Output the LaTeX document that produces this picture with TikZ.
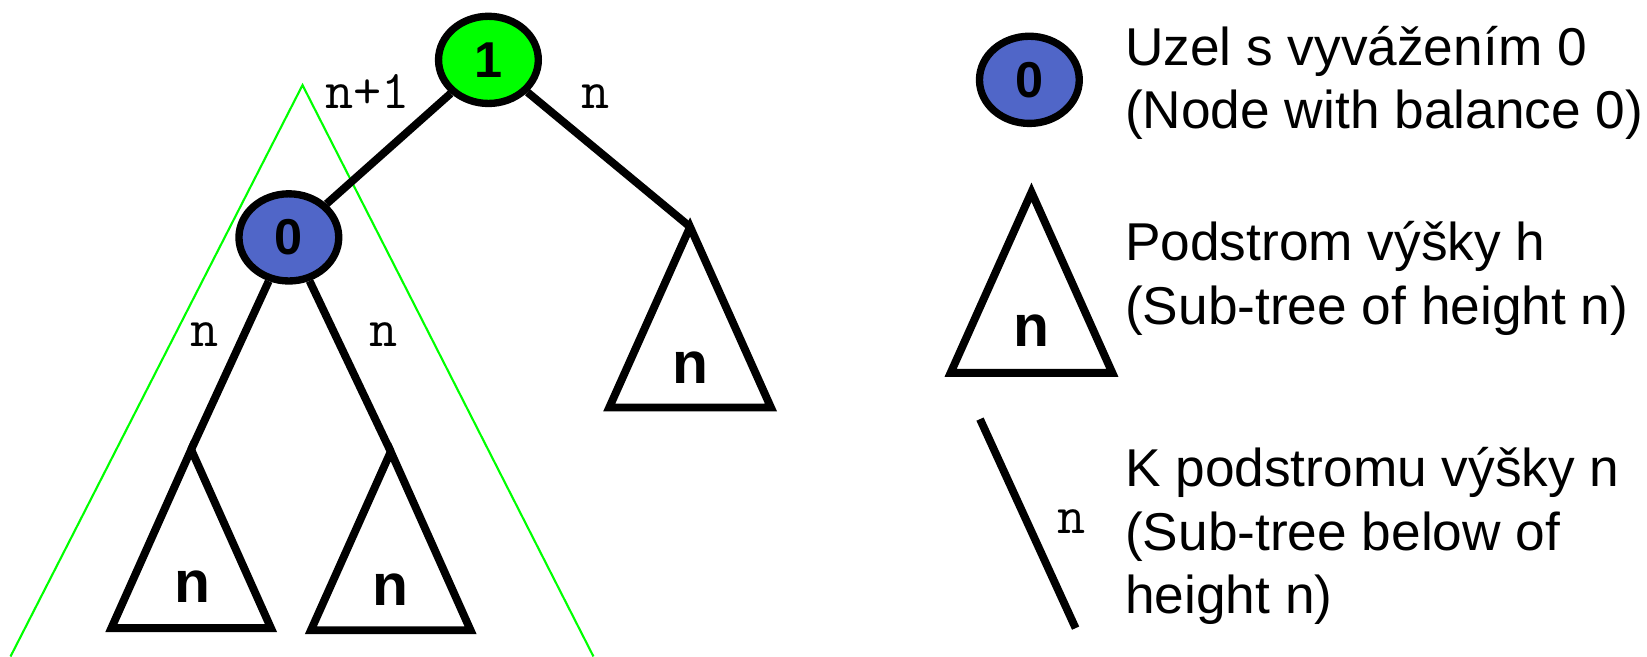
\documentclass[tikz,border=0pt]{standalone}
\usepackage{fontspec}
\setmainfont{Liberation Sans}
\usetikzlibrary{shapes.geometric}
\definecolor{nodegreen}{RGB}{0,255,0}
\definecolor{nodeblue}{RGB}{80,102,200}
\begin{document}
\begin{tikzpicture}[x=1pt,y=-1pt,
  avl/.style={ellipse,draw=black,line width=7pt,minimum width=95pt,minimum height=83pt,inner sep=0pt,font=\fontsize{48}{48}\selectfont\bfseries},
  subtree/.style={draw=black,line width=7.5pt},
  treeedge/.style={draw=black,line width=7.5pt},
  hlab/.style={font=\fontsize{52}{52}\ttfamily,anchor=base,inner sep=0pt},
  tlab/.style={font=\fontsize{56}{56}\selectfont\bfseries,anchor=base,inner sep=0pt},
  legtxt/.style={font=\fontsize{50.7}{60}\selectfont,anchor=base west,inner sep=0pt},
  hull/.style={draw=nodegreen,line width=2pt}]
\useasboundingbox (0,0) rectangle (1568,625);
% green hull of the left subtree
\coordinate (hl) at (10,625);
\coordinate (ht) at (288,81);
\coordinate (hr) at (565,625);
\draw[hull] (hl) -- (ht) -- (hr);
% tree nodes
\node[avl,fill=nodegreen] (n1) at (465,57) {1};
\node[avl,fill=nodeblue] (n0) at (275,226) {0};
% subtree apexes
\coordinate (ra) at (657,216);
\coordinate (la) at (182,428);
\coordinate (ma) at (372,430);
% subtrees
\draw[subtree] (ra) -- ++(77,172) -- ++(-154,0) -- cycle;
\draw[subtree] (la) -- ++(76,170) -- ++(-152,0) -- cycle;
\draw[subtree] (ma) -- ++(76,170) -- ++(-152,0) -- cycle;
\node[tlab] (tr) at (657,365) {n};
\node[tlab] (tl) at (183,574) {n};
\node[tlab] (tm) at (372,576) {n};
% edges
\draw[treeedge] (n1) -- (n0);
\draw[treeedge] (n1) -- (ra);
\draw[treeedge] (n0) -- (la);
\draw[treeedge] (n0) -- (ma);
% edge labels
\node[hlab] (lnp) at (350,103) {n+1};
\node[hlab] (lnr) at (567,103) {n};
\node[hlab] (lnl) at (195,330) {n};
\node[hlab] (lnm) at (365,330) {n};
% legend
\node[avl,fill=nodeblue] (lg0) at (980,76) {0};
\coordinate (lgt) at (982,183);
\draw[subtree] (lgt) -- ++(77,172) -- ++(-154,0) -- cycle;
\node[tlab] (lgn) at (982,330) {n};
\coordinate (lga) at (933,399);
\coordinate (lgb) at (1024,598);
\draw[treeedge] (lga) -- (lgb);
\node[hlab] (lgl) at (1020,508) {n};
\node[legtxt] (t1) at (1071,62) {Uzel s vyvážením 0};
\node[legtxt] (t2) at (1071,122) {(Node with balance 0)};
\node[legtxt] (t3) at (1071,248) {Podstrom výšky h};
\node[legtxt] (t4) at (1071,309) {(Sub-tree of height n)};
\node[legtxt] (t5) at (1071,463) {K podstromu výšky n};
\node[legtxt] (t6) at (1071,524) {(Sub-tree below of};
\node[legtxt] (t7) at (1071,584) {height n)};
\end{tikzpicture}
\end{document}
